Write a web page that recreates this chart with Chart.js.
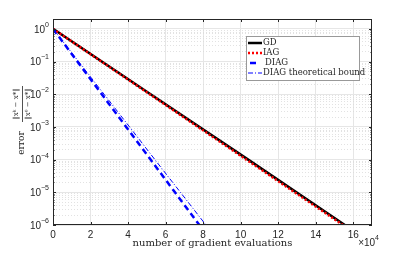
<!DOCTYPE html>
<html>
<head>
<meta charset="utf-8">
<script src="https://cdn.jsdelivr.net/npm/chart.js@4.4.1/dist/chart.umd.min.js"></script>
<style>
html,body{margin:0;padding:0;background:#fff;}
#wrap{width:411px;height:253px;}
</style>
</head>
<body>
<div id="wrap"><canvas id="c" width="411" height="253"></canvas></div>
<script>
// values (x in gradient evaluations, y = relative error)
const gdX   = [0, 52000, 104000, 155500];
const gdY   = [1, 1e-2, 1e-4, 1e-6];
const iagX  = [0, 51500, 103000, 154500];
const iagY  = [1, 1e-2, 1e-4, 1e-6];
const diagX = [0, 13000, 26000, 39000, 52000, 65000, 78000];
const diagY = [1, 1e-1, 1e-2, 1e-3, 1e-4, 1e-5, 1e-6];
const bndX  = [0, 13600, 27200, 40800, 54300, 67900, 81500];
const bndY  = [1, 1e-1, 1e-2, 1e-3, 1e-4, 1e-5, 1e-6];
const xTicks = [0, 2, 4, 6, 8, 10, 12, 14, 16];          // ×10^4
const yDecades = [1e-6, 1e-5, 1e-4, 1e-3, 1e-2, 1e-1, 1];

const pts=(xs,ys)=>xs.map((x,i)=>({x, y:ys[i]}));
const minors=[]; yDecades.forEach(d=>{ if(d<1) for(let k=2;k<=9;k++) minors.push(d*k); });
minors.push(2);

const TXT="#262626", SANS="'Liberation Sans',Arial,sans-serif", SERIF="'DejaVu Serif','Liberation Serif',serif";

// "10" with a raised exponent, right aligned at rx
function pow10(ctx, rx, cy, base, exp){
  ctx.font="7px "+SANS; const ew=ctx.measureText(exp).width;
  ctx.font="10px "+SANS; const bw=ctx.measureText(base).width;
  ctx.textAlign="left"; ctx.textBaseline="middle";
  ctx.fillText(base, rx-ew-bw, cy+1);
  ctx.font="7px "+SANS; ctx.fillText(exp, rx-ew, cy-4);
}

const decor={
  id:"decor",
  afterDraw(chart){
    const {ctx, chartArea:a, scales:{x,y}}=chart;
    ctx.save();
    // box + inward ticks
    ctx.strokeStyle=TXT; ctx.lineWidth=1;
    ctx.strokeRect(a.left+0.5, a.top+0.5, a.right-a.left-1, a.bottom-a.top-1);
    ctx.beginPath();
    xTicks.forEach(t=>{ const px=Math.round(x.getPixelForValue(t*1e4))+0.5;
      ctx.moveTo(px,a.bottom); ctx.lineTo(px,a.bottom-3); ctx.moveTo(px,a.top); ctx.lineTo(px,a.top+3); });
    yDecades.forEach(v=>{ const py=Math.round(y.getPixelForValue(v))+0.5;
      ctx.moveTo(a.left,py); ctx.lineTo(a.left+3,py); ctx.moveTo(a.right,py); ctx.lineTo(a.right-3,py); });
    minors.forEach(v=>{ const py=Math.round(y.getPixelForValue(v))+0.5; if(py<a.top) return;
      ctx.moveTo(a.left,py); ctx.lineTo(a.left+1.5,py); ctx.moveTo(a.right,py); ctx.lineTo(a.right-1.5,py); });
    ctx.stroke();
    ctx.fillStyle=TXT;
    // y tick labels
    yDecades.forEach(v=>pow10(ctx, a.left-4, y.getPixelForValue(v), "10", String(Math.round(Math.log10(v))).replace("-","−")));
    // x multiplier
    pow10(ctx, 379, 242, "×10", "4");
    // x title
    ctx.font="10px "+SERIF; ctx.textAlign="center"; ctx.textBaseline="alphabetic";
    ctx.fillText("number of gradient evaluations", (a.left+a.right)/2, 246);
    // y title: "error" + fraction, rotated
    ctx.save(); ctx.translate(22,143); ctx.rotate(-Math.PI/2);
    ctx.textBaseline="middle"; ctx.font="9px "+SERIF; ctx.fillText("error",0,0); ctx.restore();
    ctx.save(); ctx.translate(22,104); ctx.rotate(-Math.PI/2);
    ctx.font="7px "+SERIF; ctx.textBaseline="middle"; ctx.textAlign="center";
    ctx.fillText("‖xᵏ − x*‖",0,-6); ctx.fillText("‖x⁰ − x*‖",0,6);
    ctx.beginPath(); ctx.moveTo(-18,0.5); ctx.lineTo(18,0.5); ctx.lineWidth=0.8; ctx.stroke();
    ctx.restore();
    // legend
    const bx=246, by=36, bw=113, bh=44;
    ctx.fillStyle="#fff"; ctx.fillRect(bx,by,bw,bh);
    ctx.strokeStyle="#999"; ctx.lineWidth=1; ctx.strokeRect(bx+0.5,by+0.5,bw,bh);
    chart.data.datasets.forEach((ds,i)=>{
      const ly=43+i*10;
      ctx.beginPath(); ctx.strokeStyle=ds.borderColor; ctx.lineWidth=ds.borderWidth;
      ctx.setLineDash(ds.borderDash||[]);
      if(i===2){ ctx.moveTo(250,ly); ctx.lineTo(256,ly); } else { ctx.moveTo(248,ly); ctx.lineTo(262,ly); }
      ctx.stroke(); ctx.setLineDash([]);
      ctx.fillStyle=TXT; ctx.font="8.5px "+SERIF; ctx.textAlign="left"; ctx.textBaseline="middle";
      ctx.fillText(ds.label, i===2?265:263, ly);
    });
    ctx.restore();
  }
};

new Chart(document.getElementById("c"),{
  type:"line",
  data:{datasets:[
    {label:"GD", data:pts(gdX,gdY), borderColor:"#000", borderWidth:2.5, pointRadius:0, order:3},
    {label:"IAG", data:pts(iagX,iagY), borderColor:"#ff0000", borderWidth:2.5, borderDash:[2,2], pointRadius:0, order:1},
    {label:"DIAG", data:pts(diagX,diagY), borderColor:"#0000ff", borderWidth:2.5, borderDash:[6,4], pointRadius:0, order:2},
    {label:"DIAG theoretical bound", data:pts(bndX,bndY), borderColor:"#0000ff", borderWidth:1, borderDash:[5,2,1,2], pointRadius:0, order:0}
  ]},
  options:{
    responsive:false, animation:false, events:[],
    layout:{padding:{top:19,right:39,left:0,bottom:0}},
    plugins:{legend:{display:false}, tooltip:{enabled:false}},
    scales:{
      x:{type:"linear", min:0, max:170000,
        afterBuildTicks:s=>{ s.ticks=xTicks.map(t=>({value:t*1e4})); },
        afterFit:s=>{ s.height=28; },
        ticks:{color:TXT, padding:4, font:{size:10,family:SANS}, callback:v=>String(v/1e4)},
        grid:{color:"#e6e6e6", drawTicks:false}, border:{display:false}},
      ym:{type:"logarithmic", position:"left", min:1e-6, max:2,
        afterBuildTicks:s=>{ s.ticks=minors.map(v=>({value:v})); },
        afterFit:s=>{ s.width=0; },
        ticks:{display:false}, grid:{color:"#dadada", drawTicks:false, lineWidth:0.8},
        border:{display:false, dash:[1,2]}},
      y:{type:"logarithmic", position:"left", min:1e-6, max:2,
        afterBuildTicks:s=>{ s.ticks=yDecades.map(v=>({value:v})); },
        afterFit:s=>{ s.width=53; },
        ticks:{display:false},
        grid:{color:"#e6e6e6", drawTicks:false}, border:{display:false}}
    }
  },
  plugins:[decor]
});
</script>
</body>
</html>
